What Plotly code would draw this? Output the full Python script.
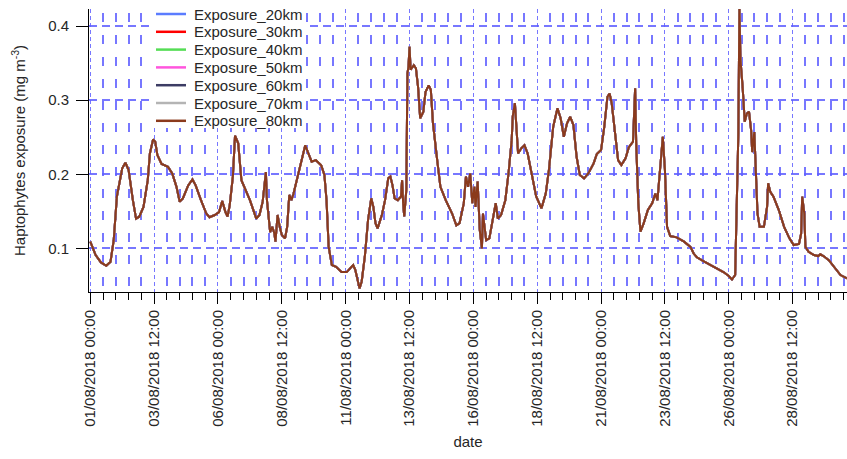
import pandas as pd
import plotly.graph_objects as go

# Hours after 01/08/2018 00:00 and the haptophyte exposure (mg m-3) at each time
hours = [
    0, 5, 10, 15, 19, 22, 25, 27, 30, 33, 36, 40, 43, 46, 50, 54, 56, 59, 61, 63,
    67, 73, 77, 81, 84, 87, 92, 96, 99, 104, 109, 112, 117, 121, 124, 127, 129, 131, 134, 136,
    139, 142, 145, 150, 156, 159, 162, 165, 166, 168, 169, 171, 173, 174, 176, 178, 180, 183, 185, 187,
    189, 191, 194, 197, 200, 202, 205, 208, 212, 217, 220, 222, 224, 227, 231, 236, 241, 244, 247, 249,
    252, 253, 255, 258, 261, 264, 266, 268, 270, 274, 277, 280, 282, 284, 286, 289, 292, 293, 294, 295,
    297, 298, 299, 300, 301, 304, 306, 308, 310, 313, 315, 318, 320, 322, 326, 329, 334, 340, 344, 347,
    351, 353, 355, 357, 359, 361, 362, 364, 366, 368, 369, 372, 375, 379, 381, 383, 386, 390, 393, 396,
    397, 399, 401, 402, 405, 408, 411, 415, 419, 424, 428, 431, 435, 439, 442, 445, 448, 451, 454, 457,
    460, 464, 468, 473, 476, 480, 483, 486, 488, 490, 493, 496, 499, 503, 506, 510, 512, 513, 515, 517,
    520, 524, 528, 531, 533, 536, 538, 540, 542, 545, 551, 558, 564, 567, 570, 577, 586, 595, 600, 603,
    606, 607, 609, 610, 611, 613, 615, 617, 619, 621, 622, 624, 625, 627, 629, 633, 636, 637, 639, 642,
    647, 652, 657, 661, 666, 668, 669, 671, 672, 675, 680, 684, 686, 689, 694, 699, 705, 711,
]
exposure = [
    0.109, 0.091, 0.081, 0.0765, 0.082, 0.111, 0.170, 0.185, 0.208, 0.2155, 0.2057, 0.165, 0.140, 0.1427, 0.156, 0.192, 0.228, 0.247, 0.244, 0.226,
    0.214, 0.210, 0.201, 0.183, 0.163, 0.1675, 0.185, 0.193, 0.185, 0.165, 0.147, 0.142, 0.145, 0.149, 0.164, 0.149, 0.143, 0.158, 0.197, 0.252,
    0.2417, 0.192, 0.181, 0.165, 0.140, 0.145, 0.163, 0.203, 0.165, 0.131, 0.122, 0.129, 0.120, 0.109, 0.145, 0.129, 0.118, 0.1135, 0.129, 0.172,
    0.165, 0.174, 0.192, 0.208, 0.228, 0.239, 0.228, 0.217, 0.219, 0.212, 0.199, 0.165, 0.102, 0.0775, 0.075, 0.068, 0.068, 0.073, 0.0775, 0.071,
    0.055, 0.046, 0.055, 0.089, 0.138, 0.1675, 0.156, 0.134, 0.127, 0.145, 0.165, 0.1945, 0.197, 0.185, 0.1675, 0.165, 0.170, 0.192, 0.161, 0.143,
    0.179, 0.336, 0.345, 0.372, 0.341, 0.347, 0.343, 0.318, 0.2755, 0.2845, 0.311, 0.320, 0.314, 0.269, 0.219, 0.183, 0.165, 0.147, 0.131, 0.134,
    0.161, 0.197, 0.183, 0.201, 0.161, 0.183, 0.156, 0.190, 0.125, 0.100, 0.147, 0.111, 0.1135, 0.143, 0.161, 0.140, 0.145, 0.165, 0.201, 0.246,
    0.278, 0.296, 0.246, 0.228, 0.235, 0.239, 0.228, 0.197, 0.170, 0.154, 0.174, 0.206, 0.264, 0.289, 0.2755, 0.2506, 0.2687, 0.2776, 0.2664, 0.2236,
    0.199, 0.1945, 0.201, 0.2147, 0.2273, 0.2327, 0.264, 0.3046, 0.309, 0.2957, 0.255, 0.219, 0.2124, 0.2215, 0.2363, 0.2439, 0.316, 0.2417, 0.1607, 0.1224,
    0.1337, 0.1517, 0.1607, 0.174, 0.165, 0.219, 0.2506, 0.2057, 0.129, 0.1166, 0.1148, 0.109, 0.102, 0.093, 0.088, 0.082, 0.075, 0.068, 0.0626, 0.058,
    0.064, 0.120, 0.255, 0.423, 0.354, 0.318, 0.271, 0.282, 0.2845, 0.2597, 0.230, 0.257, 0.219, 0.147, 0.129, 0.129, 0.156, 0.1877, 0.1764, 0.1697,
    0.1517, 0.129, 0.1135, 0.1045, 0.106, 0.120, 0.1697, 0.147, 0.102, 0.0954, 0.091, 0.0896, 0.092, 0.0896, 0.084, 0.0752, 0.064, 0.0595,
]

series_names = [
    "Exposure_20km", "Exposure_30km", "Exposure_40km", "Exposure_50km",
    "Exposure_60km", "Exposure_70km", "Exposure_80km",
]
series_colors = [
    "#5b7cff", "#ff0000", "#55dd55", "#ff55dd", "#3c3c64", "#b4b4b4", "#8b3a1c",
]

y_ticks = [0.1, 0.2, 0.3, 0.4]

start = pd.Timestamp("2018-08-01 00:00")
dates = start + pd.to_timedelta(hours, unit="h")

# figure geometry (pixels)
W, H = 847, 459
L, R, T, B = 89, 0, 9, 167
PW, PH = W - L - R, H - T - B

FONT = "Liberation Sans, Arial, sans-serif"
TXT = "#262626"
GRID = "rgba(95,95,255,0.85)"

fig = go.Figure()
# every distance band shares the same exposure series; they are stacked in order
for name, color in zip(series_names, series_colors):
    fig.add_trace(go.Scatter(
        x=dates, y=exposure, mode="lines", name=name,
        line=dict(color=color, width=2), showlegend=False,
    ))

HOUR_MS = 3600 * 1000

fig.update_xaxes(
    type="date",
    range=[start - pd.Timedelta(hours=1.22), start + pd.Timedelta(hours=711.1)],
    tick0=start, dtick=60 * HOUR_MS, tickformat="%d/%m/%Y %H:%M",
    tickangle=-90, ticks="outside", ticklen=11, tickcolor="#000", tickwidth=1,
    showline=True, linecolor="#000", linewidth=1,
    showgrid=True, gridcolor=GRID, gridwidth=1.2, griddash="4px,3px",
    minor=dict(tick0=start, dtick=12 * HOUR_MS, ticks="outside", ticklen=7,
               tickcolor="#000", showgrid=True, gridcolor=GRID, gridwidth=1.5,
               griddash="0px,4px,9px,9px"),
    tickfont=dict(family=FONT, size=15, color=TXT),
    title=dict(text="date", font=dict(family=FONT, size=15, color=TXT), standoff=10),
    zeroline=False,
)
fig.update_yaxes(
    range=[0.0411, 0.423],
    tickvals=y_ticks, ticktext=[f"{v:.1f}" for v in y_ticks],
    ticks="outside", ticklen=12, tickcolor="#000", tickwidth=1, ticklabelstandoff=4,
    showline=True, linecolor="#000", linewidth=1,
    showgrid=True, gridcolor=GRID, gridwidth=1.5, griddash="8px,5px",
    tickfont=dict(family=FONT, size=15, color=TXT),
    title=dict(text="Haptophytes exposure (mg m<sup>-3</sup>)",
               font=dict(family=FONT, size=15, color=TXT), standoff=18),
    zeroline=False,
)


def px_x(p):
    return (p - L) / PW


def px_y(p):
    return (H - B - p) / PH


# legend box drawn as shapes and text
shapes = [dict(type="rect", xref="paper", yref="paper", layer="above",
               x0=px_x(152), x1=px_x(305), y0=px_y(128), y1=px_y(3),
               fillcolor="white", line=dict(width=0))]
annotations = []
for i, (name, color) in enumerate(zip(series_names, series_colors)):
    yc = 14 + 17.8 * i
    shapes.append(dict(type="line", xref="paper", yref="paper", layer="above",
                       x0=px_x(156), x1=px_x(186), y0=px_y(yc), y1=px_y(yc),
                       line=dict(color=color, width=2.5)))
    annotations.append(dict(xref="paper", yref="paper", x=px_x(192), y=px_y(yc),
                            text=name, showarrow=False, xanchor="left", yanchor="middle",
                            font=dict(family=FONT, size=15, color=TXT)))

fig.update_layout(
    width=W, height=H,
    margin=dict(l=L, r=R, t=T, b=B, autoexpand=False),
    paper_bgcolor="white", plot_bgcolor="white",
    shapes=shapes, annotations=annotations,
    showlegend=False,
)

fig.write_html("out.html")
